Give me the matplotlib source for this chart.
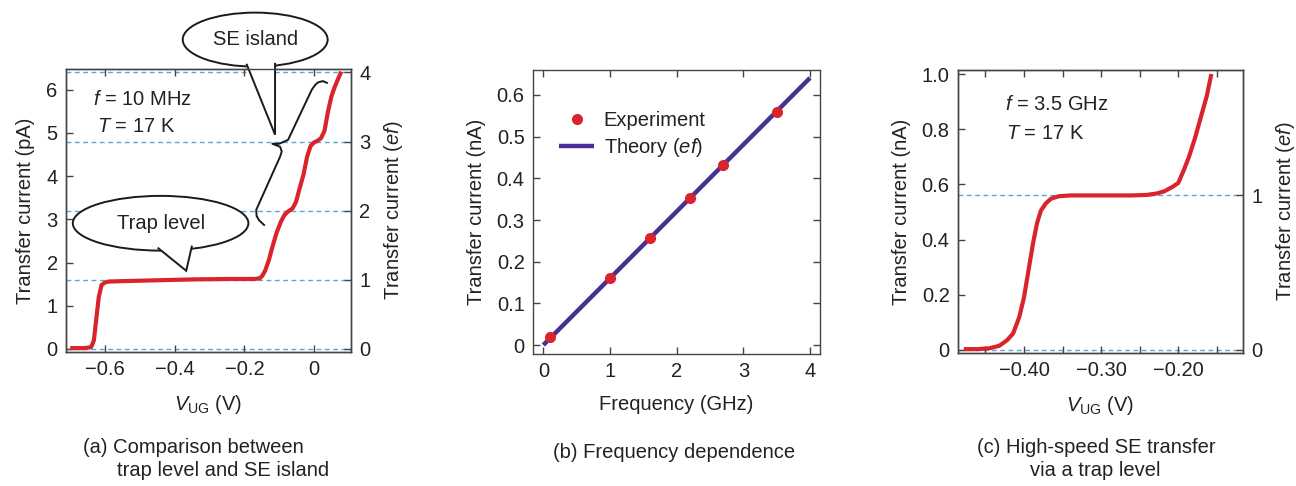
import matplotlib
matplotlib.use("Agg")
import matplotlib.pyplot as plt
from matplotlib.patches import Ellipse, Polygon
from matplotlib.ticker import MultipleLocator, FuncFormatter, FixedLocator

plt.rcParams['font.family'] = ['Liberation Sans', 'DejaVu Sans']
plt.rcParams['mathtext.fontset'] = 'custom'
plt.rcParams['mathtext.rm'] = 'Liberation Sans'
plt.rcParams['mathtext.it'] = 'Liberation Sans:italic'
plt.rcParams['axes.unicode_minus'] = True

# ---------------- data ----------------
# (a) trap level + SE island, f = 10 MHz
a_v = [-0.700, -0.660, -0.640, -0.632, -0.625, -0.618, -0.610, -0.600, -0.590, -0.550,
       -0.450, -0.350, -0.250, -0.170, -0.155, -0.148, -0.140, -0.130, -0.120, -0.108,
       -0.095, -0.085, -0.075, -0.062, -0.052, -0.042, -0.030, -0.020, -0.010, 0.000,
       0.010, 0.020, 0.030, 0.040, 0.050, 0.060, 0.070, 0.078]
a_i = [0.02, 0.02, 0.04, 0.20, 0.70, 1.20, 1.48, 1.54, 1.56, 1.57,
       1.59, 1.61, 1.62, 1.62, 1.64, 1.70, 1.82, 2.05, 2.35, 2.68,
       2.95, 3.10, 3.18, 3.25, 3.40, 3.70, 4.05, 4.45, 4.70, 4.78,
       4.82, 4.88, 5.05, 5.50, 5.85, 6.08, 6.27, 6.42]
a_ef_pA = 1.6          # e*f for 10 MHz in pA
a_levels = [0, 1, 2, 3, 4]
# brace marking the SE island steps
brace_v = [-0.1435, -0.158, -0.165, -0.166, -0.0976, -0.0927, -0.0975, -0.1197,
           -0.100, -0.0746, -0.0066, 0.004, 0.0115, 0.025, 0.037]
brace_i = [2.87, 2.98, 3.08, 3.22, 4.45, 4.57, 4.68, 4.75,
           4.75, 4.84, 6.00, 6.12, 6.17, 6.20, 6.16]

# (b) frequency dependence
b_freq = [0.1, 1.0, 1.6, 2.2, 2.7, 3.5]
b_curr = [0.02, 0.16, 0.256, 0.352, 0.432, 0.560]
b_theory_f = [0.0, 4.0]
b_theory_i = [0.0, 0.641]

# (c) high-speed transfer, f = 3.5 GHz
c_v = [-0.478, -0.460, -0.445, -0.432, -0.422, -0.414, -0.406, -0.400, -0.394, -0.388,
       -0.383, -0.378, -0.372, -0.365, -0.355, -0.340, -0.300, -0.260, -0.240, -0.228,
       -0.218, -0.208, -0.200, -0.193, -0.186, -0.178, -0.170, -0.163, -0.157]
c_i = [0.003, 0.003, 0.006, 0.015, 0.035, 0.060, 0.120, 0.190, 0.290, 0.390,
       0.460, 0.505, 0.530, 0.548, 0.557, 0.560, 0.560, 0.560, 0.562, 0.567,
       0.575, 0.590, 0.605, 0.650, 0.700, 0.770, 0.850, 0.920, 1.000]
c_ef_nA = 0.56
c_levels = [0, 1]

# ---------------- style ----------------
RED = '#d9242b'
BLUE = '#5aa6d8'
PURPLE = '#4a2f96'
TXT = '#222222'
FS = 14.5
TFS = 14.5

fig = plt.figure(figsize=(12.96, 4.86), dpi=100)

def style(ax, right=True, top=True):
    for s in ax.spines.values():
        s.set_color('#444444')
        s.set_linewidth(1.0)
    ax.tick_params(direction='in', length=5, width=1.0, colors='#444444',
                   labelcolor=TXT, labelsize=TFS, top=top, right=right, pad=6)
    ax.tick_params(which='minor', direction='in', length=5, width=1.0,
                   colors='#444444', top=top)

def dashed(ax, y):
    ax.axhline(y, color=BLUE, lw=1.0, ls=(0, (3.5, 2.5)), zorder=1)

def fmt_gen(dec):
    def f(v, pos):
        if abs(v) < 1e-9:
            return '0'
        s = f'{v:.{dec}f}'
        return s.replace('-', '\u2212')
    return FuncFormatter(f)

# ---------------- panel (a) ----------------
axa = fig.add_axes([66/1296, 1-352/486, 285/1296, 283/486])
axa.set_xlim(-0.712, 0.106)
axa.set_ylim(-0.07, 6.48)
for lv in a_levels:
    dashed(axa, lv * a_ef_pA)
axa.plot(a_v, a_i, color=RED, lw=3.0, solid_joinstyle='round', solid_capstyle='butt', zorder=3)
axa.plot(brace_v, brace_i, color='#1a1a1a', lw=1.4, solid_joinstyle='round', zorder=4)
axa.xaxis.set_major_locator(FixedLocator([-0.6, -0.4, -0.2, 0.0]))
axa.xaxis.set_major_formatter(fmt_gen(1))
axa.yaxis.set_major_locator(MultipleLocator(1))
axa.yaxis.set_major_formatter(FuncFormatter(lambda v, p: f'{int(round(v))}'))
style(axa, right=False)
axa.set_ylabel('Transfer current (pA)', fontsize=FS, color=TXT, labelpad=8)
axa.set_xlabel(r'$V_{\rm UG}$ (V)', fontsize=FS, color=TXT, labelpad=10)
axa2 = axa.twinx()
axa2.set_ylim(-0.07 / a_ef_pA, 6.48 / a_ef_pA)
axa2.yaxis.set_major_locator(FixedLocator(a_levels))
axa2.yaxis.set_major_formatter(FuncFormatter(lambda v, p: f'{int(round(v))}'))
style(axa2, top=False)
axa2.tick_params(left=False, right=True, bottom=False, top=False)
axa2.set_ylabel(r'Transfer current ($ef$)', fontsize=FS, color=TXT, labelpad=8)

axa.text(-0.634, 5.77, r'$f$ = 10 MHz', fontsize=FS, color=TXT, va='center')
axa.text(-0.623, 5.14, r'$T$ = 17 K', fontsize=FS, color=TXT, va='center')

def callout(ax, cx, cy, w, h, base, tip, label):
    e = Ellipse((cx, cy), w, h, facecolor='white', edgecolor='#1a1a1a', lw=1.4,
                clip_on=False, zorder=6)
    ax.add_patch(e)
    (x1, y1), (x2, y2) = base
    inset = 0.12 * h if tip[1] < cy else -0.12 * h
    poly = Polygon([(x1, y1 + inset), (x1, y1), tip, (x2, y2), (x2, y2 + inset)],
                   closed=True, facecolor='white', edgecolor='none',
                   clip_on=False, zorder=7)
    ax.add_patch(poly)
    ax.plot([x1, tip[0], x2], [y1, tip[1], y2], color='#1a1a1a', lw=1.4,
            clip_on=False, zorder=8, solid_joinstyle='miter')
    ax.text(cx, cy, label, ha='center', va='center', fontsize=FS, color=TXT, zorder=9)

callout(axa, -0.169, 7.16, 0.416, 1.25,
        [(-0.193, 6.58), (-0.112, 6.60)], (-0.112, 4.96), 'SE island')
callout(axa, -0.4405, 2.91, 0.504, 1.267,
        [(-0.4467, 2.33), (-0.351, 2.37)], (-0.367, 1.81), 'Trap level')

# ---------------- panel (b) ----------------
axb = fig.add_axes([533/1296, 1-354/486, 287/1296, 284/486])
axb.set_xlim(-0.155, 4.15)
axb.set_ylim(-0.0216, 0.66)
axb.plot(b_theory_f, b_theory_i, color=PURPLE, lw=3.2, solid_capstyle='butt',
         label=r'Theory ($ef$)', zorder=2)
axb.plot(b_freq, b_curr, 'o', color=RED, ms=8, mec='none', label='Experiment', zorder=3)
axb.xaxis.set_major_locator(MultipleLocator(1))
axb.xaxis.set_major_formatter(FuncFormatter(lambda v, p: f'{int(round(v))}'))
axb.yaxis.set_major_locator(MultipleLocator(0.1))
axb.yaxis.set_major_formatter(fmt_gen(1))
style(axb)
axb.set_ylabel('Transfer current (nA)', fontsize=FS, color=TXT, labelpad=8)
axb.set_xlabel('Frequency (GHz)', fontsize=FS, color=TXT, labelpad=10)
h, l = axb.get_legend_handles_labels()
leg = axb.legend(h[::-1], l[::-1], loc='upper left', bbox_to_anchor=(0.092, 0.855),
                 frameon=False, fontsize=FS, handlelength=1.7, handletextpad=0.5,
                 labelspacing=0.28, borderpad=0, borderaxespad=0)
for t in leg.get_texts():
    t.set_color(TXT)

# ---------------- panel (c) ----------------
axc = fig.add_axes([958/1296, 1-353/486, 285/1296, 283/486])
axc.set_xlim(-0.4855, -0.116)
axc.set_ylim(-0.011, 1.0145)
for lv in c_levels:
    dashed(axc, lv * c_ef_nA)
axc.plot(c_v, c_i, color=RED, lw=3.0, solid_joinstyle='round', solid_capstyle='butt', zorder=3)
axc.xaxis.set_major_locator(FixedLocator([-0.4, -0.3, -0.2]))
axc.xaxis.set_minor_locator(FixedLocator([-0.45, -0.35, -0.25, -0.15]))
axc.xaxis.set_major_formatter(fmt_gen(2))
axc.yaxis.set_major_locator(MultipleLocator(0.2))
axc.yaxis.set_major_formatter(fmt_gen(1))
style(axc, right=False)
axc.set_ylabel('Transfer current (nA)', fontsize=FS, color=TXT, labelpad=8)
axc.set_xlabel(r'$V_{\rm UG}$ (V)', fontsize=FS, color=TXT, labelpad=10)
axc2 = axc.twinx()
axc2.set_ylim(-0.011 / c_ef_nA, 1.0145 / c_ef_nA)
axc2.yaxis.set_major_locator(FixedLocator(c_levels))
axc2.yaxis.set_major_formatter(FuncFormatter(lambda v, p: f'{int(round(v))}'))
style(axc2, top=False)
axc2.tick_params(left=False, right=True, bottom=False, top=False)
axc2.set_ylabel(r'Transfer current ($ef$)', fontsize=FS, color=TXT, labelpad=8)
axc.text(-0.425, 0.888, r'$f$ = 3.5 GHz', fontsize=FS, color=TXT, va='center')
axc.text(-0.423, 0.786, r'$T$ = 17 K', fontsize=FS, color=TXT, va='center')

# ---------------- captions ----------------
def cap(x, y, s):
    fig.text(x / 1296, 1 - y / 486, s, fontsize=FS, color=TXT, ha='left', va='center')

cap(83, 447, '(a) Comparison between')
cap(117, 470, 'trap level and SE island')
cap(553, 452, '(b) Frequency dependence')
cap(977, 447, '(c) High-speed SE transfer')
cap(1030, 470, 'via a trap level')

fig.savefig('out.png', dpi=100)
